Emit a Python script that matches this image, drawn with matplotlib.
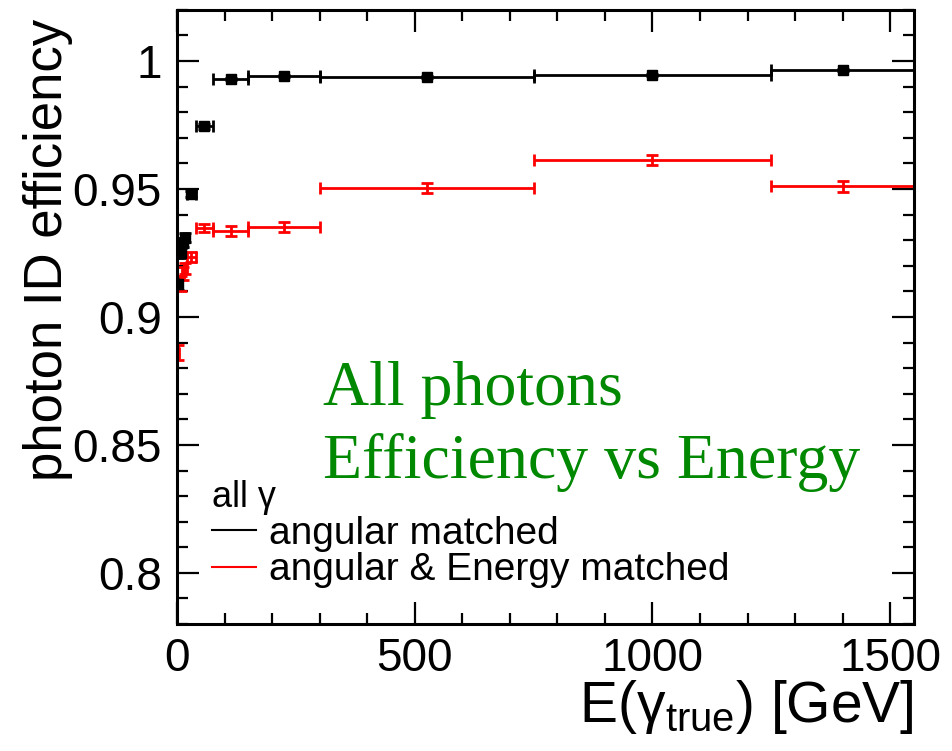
import numpy as np
import matplotlib.pyplot as plt
from matplotlib.ticker import MultipleLocator, FuncFormatter
from matplotlib.lines import Line2D

plt.rcParams['font.family'] = ['Liberation Sans', 'DejaVu Sans']
plt.rcParams['mathtext.fontset'] = 'custom'
plt.rcParams['mathtext.rm'] = 'Liberation Sans'
plt.rcParams['mathtext.it'] = 'Liberation Sans:italic'

# energy bins (GeV)
bin_edges = np.array([0, 5, 10, 15, 20, 40, 75, 150, 300, 750, 1250, 1550])

# efficiency, angular matching only
eff_ang = [0.913, 0.925, 0.929, 0.931, 0.948, 0.9745, 0.9929, 0.9943, 0.9938, 0.9946, 0.9963]
err_ang = [0.0025, 0.002, 0.0018, 0.0016, 0.0012, 0.0010, 0.0004, 0.0004, 0.0004, 0.0004, 0.0004]

# efficiency, angular and energy matching
eff_ang_e = [0.886, 0.913, 0.917, 0.919, 0.9235, 0.9348, 0.9336, 0.9352, 0.9505, 0.9614, 0.951]
err_ang_e = [0.003, 0.0028, 0.0025, 0.0022, 0.0020, 0.0015, 0.0018, 0.0020, 0.0020, 0.0020, 0.0022]

centers = 0.5 * (bin_edges[1:] + bin_edges[:-1])
half_w = 0.5 * (bin_edges[1:] - bin_edges[:-1])

fig = plt.figure(figsize=(9.52, 7.51), dpi=100)
ax = fig.add_axes([0.186, 0.169, 0.774, 0.818])

ax.errorbar(centers, eff_ang, xerr=half_w, yerr=err_ang, fmt='s', color='black',
            ms=6.5, lw=2, capsize=4.5, capthick=2)
ax.errorbar(centers, eff_ang_e, xerr=half_w, yerr=err_ang_e, fmt='none', ecolor='red',
            lw=2, capsize=4.5, capthick=2)

ax.set_xlim(0, 1550)
ax.set_ylim(0.78, 1.02)

ax.xaxis.set_major_locator(MultipleLocator(500))
ax.xaxis.set_minor_locator(MultipleLocator(100))
ax.yaxis.set_major_locator(MultipleLocator(0.05))
ax.yaxis.set_minor_locator(MultipleLocator(0.01))
ax.yaxis.set_major_formatter(FuncFormatter(lambda v, p: '%g' % round(v, 3)))

ax.tick_params(which='both', direction='in', top=True, right=True, width=1.6, labelsize=33)
ax.tick_params(which='major', length=16)
ax.tick_params(which='minor', length=8)
ax.tick_params(axis='y', pad=11)
ax.tick_params(axis='x', pad=9)
for s in ax.spines.values():
    s.set_linewidth(2.2)

ax.set_xlabel(r'E($\mathrm{\gamma_{true}}$) [GeV]', fontsize=41, loc='right', labelpad=-2)
fig.text(0.05, 0.975, 'photon ID efficiency', rotation=90, fontsize=38,
         ha='center', va='top')

green = '#008800'
ax.text(0.198, 0.357, 'All photons', transform=ax.transAxes, fontsize=46,
        family='Liberation Serif', color=green, va='baseline')
ax.text(0.198, 0.238, 'Efficiency vs Energy', transform=ax.transAxes, fontsize=46,
        family='Liberation Serif', color=green, va='baseline')

handles = [Line2D([], [], color='black', lw=1.5), Line2D([], [], color='red', lw=1.5)]
leg = ax.legend(handles, ['angular matched', 'angular & Energy matched'],
                title='all γ', title_fontsize=26, fontsize=28, frameon=False,
                loc='lower left', bbox_to_anchor=(0.047, 0.058), borderpad=0,
                borderaxespad=0, handlelength=1.15, handletextpad=0.32,
                labelspacing=0.02, alignment='left')

fig.savefig('out.png', dpi=100)
